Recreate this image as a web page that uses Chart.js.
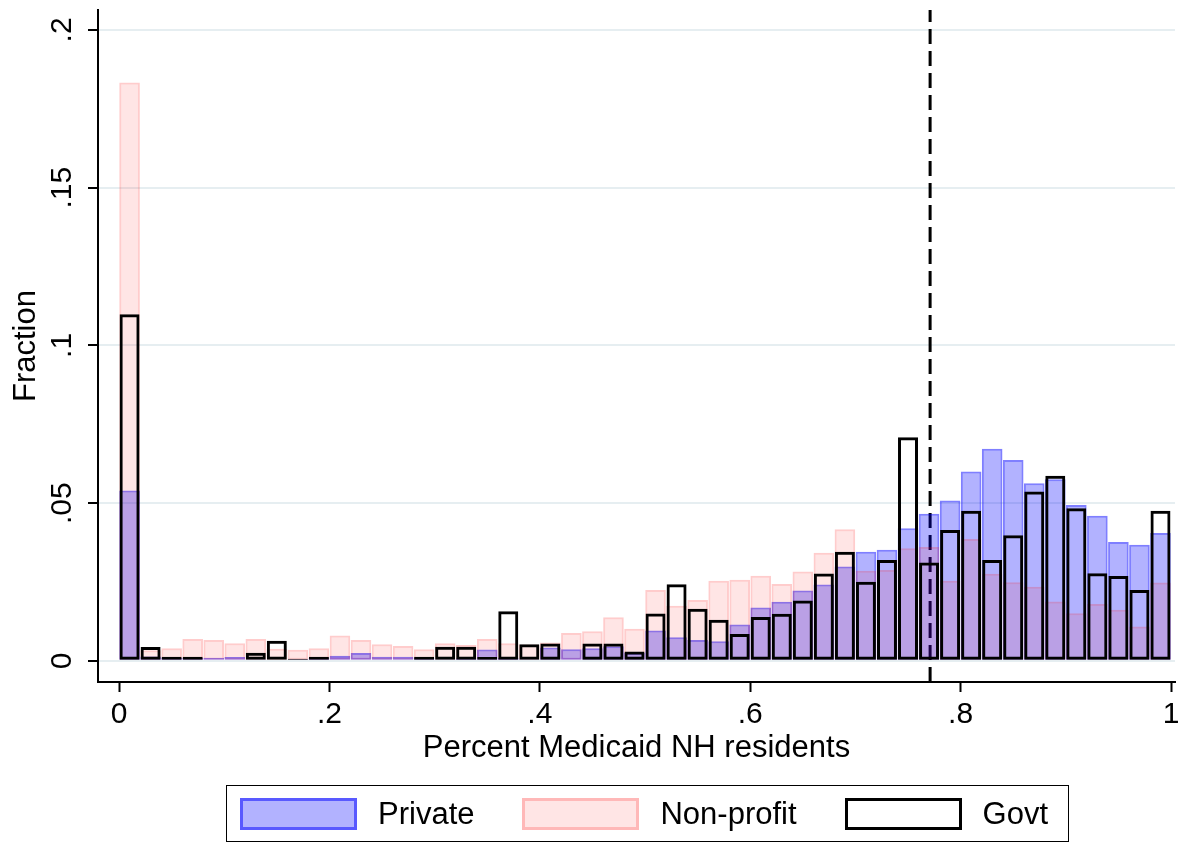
<!DOCTYPE html>
<html>
<head>
<meta charset="utf-8">
<script src="https://cdn.jsdelivr.net/npm/chart.js@4.4.1/dist/chart.umd.min.js"></script>
<style>
  html, body { margin: 0; padding: 0; background: #fff; }
  #wrap { position: relative; width: 1187px; height: 842px; }
  #legend {
    position: absolute; left: 226px; top: 785px; width: 843px; height: 57px;
    box-sizing: border-box; border: 1px solid #000; display: flex; align-items: center;
    padding-left: 13px; font-family: 'Liberation Sans', Arial, sans-serif; font-size: 31px; color: #000;
    white-space: nowrap;
  }
  .item { display: flex; align-items: center; margin-right: 48px; flex-shrink: 0; }
  .sw { width: 117px; height: 32px; box-sizing: border-box; border: 3px solid; margin-right: 21px; flex-shrink: 0; }
</style>
</head>
<body>
<div id="wrap">
  <canvas id="histChart" width="1187" height="842"></canvas>
  <div id="legend"></div>
</div>
<script>
// bin midpoints (bin width .02)
const binMids = [0.01, 0.03, 0.05, 0.07, 0.09, 0.11, 0.13, 0.15, 0.17, 0.19,
  0.21, 0.23, 0.25, 0.27, 0.29, 0.31, 0.33, 0.35, 0.37, 0.39,
  0.41, 0.43, 0.45, 0.47, 0.49, 0.51, 0.53, 0.55, 0.57, 0.59,
  0.61, 0.63, 0.65, 0.67, 0.69, 0.71, 0.73, 0.75, 0.77, 0.79,
  0.81, 0.83, 0.85, 0.87, 0.89, 0.91, 0.93, 0.95, 0.97, 0.99];

const privateFrac = [0.054, 0.0014, 0.001, 0.001, 0.001, 0.0012, 0.0005, 0.0003, 0.0005, 0.001,
  0.0016, 0.0025, 0.0013, 0.0013, 0.001, 0.0005, 0.0008, 0.0036, 0.001, 0.0005,
  0.0042, 0.0037, 0.004, 0.0046, 0.0025, 0.0096, 0.0075, 0.0066, 0.0062, 0.0115,
  0.0169, 0.0187, 0.0223, 0.0242, 0.0299, 0.0346, 0.0352, 0.042, 0.0466, 0.0508,
  0.060, 0.0672, 0.0637, 0.0563, 0.0576, 0.0494, 0.046, 0.0377, 0.0368, 0.0405];

const nonprofitFrac = [0.1833, 0.0034, 0.004, 0.0069, 0.0066, 0.0056, 0.0069, 0.0038, 0.0035, 0.004,
  0.008, 0.0066, 0.0053, 0.0047, 0.0037, 0.0056, 0.005, 0.0069, 0.0056, 0.0052,
  0.0058, 0.0088, 0.0094, 0.0138, 0.0102, 0.0225, 0.0175, 0.0193, 0.0254, 0.0257,
  0.027, 0.0244, 0.0283, 0.0343, 0.0417, 0.0286, 0.0288, 0.0357, 0.0361, 0.0254,
  0.0386, 0.0276, 0.0249, 0.0235, 0.0188, 0.0151, 0.018, 0.0162, 0.0109, 0.0248];

const govtFrac = [0.1099, 0.0044, 0.0013, 0.0013, 0, 0, 0.0026, 0.0064, 0.0007, 0.0013,
  0, 0, 0, 0, 0.0013, 0.0045, 0.0045, 0.0012, 0.0157, 0.0053,
  0.0055, 0, 0.0055, 0.0055, 0.003, 0.015, 0.0243, 0.0165, 0.013, 0.0085,
  0.0139, 0.0149, 0.0191, 0.0277, 0.0346, 0.0251, 0.032, 0.0709, 0.0312, 0.0415,
  0.0476, 0.032, 0.0398, 0.0537, 0.0587, 0.0484, 0.0278, 0.0269, 0.0225, 0.0476];

const xTicks = [0, 0.2, 0.4, 0.6, 0.8, 1];
const xTickLabels = ['0', '.2', '.4', '.6', '.8', '1'];
const yTicks = [0, 0.05, 0.1, 0.15, 0.2];
const yTickLabels = ['0', '.05', '.1', '.15', '.2'];

const cutoff = 0.771;  // dashed reference line

const xMin = -0.02, xMax = 1.0038;
const yMin = -0.0067, yMax = 0.2063;

const toPoints = vals => vals.map((v, i) => ({ x: binMids[i], y: v }));

Chart.defaults.font.family = "'Liberation Sans', Arial, sans-serif";
Chart.defaults.color = '#000';

const ctx = document.getElementById('histChart').getContext('2d');
const chart = new Chart(ctx, {
  type: 'bar',
  data: {
    datasets: [
      {
        label: 'Private',
        data: toPoints(privateFrac),
        backgroundColor: 'rgba(0,0,255,0.3)',
        borderColor: 'rgba(0,0,255,0.5)',
        borderWidth: 2,
        barPercentage: 0.98,
        order: 3
      },
      {
        label: 'Non-profit',
        data: toPoints(nonprofitFrac),
        backgroundColor: 'rgba(255,0,0,0.1)',
        borderColor: 'rgba(255,0,0,0.2)',
        borderWidth: 2,
        barPercentage: 0.98,
        order: 2
      },
      {
        label: 'Govt',
        data: toPoints(govtFrac),
        backgroundColor: 'rgba(255,255,255,0)',
        borderColor: '#000',
        borderWidth: 3,
        barPercentage: 0.95,
        order: 1
      },
      {
        type: 'line',
        label: 'cutoff',
        data: [{ x: cutoff, y: yMin }, { x: cutoff, y: yMax }],
        borderColor: '#000',
        borderWidth: 3,
        borderDash: [15, 7],
        pointRadius: 0,
        fill: false,
        order: 4
      }
    ]
  },
  options: {
    responsive: false,
    animation: false,
    layout: { padding: { top: 10, right: 12, bottom: 65, left: 0 } },
    datasets: {
      bar: { grouped: false, categoryPercentage: 1, base: 0, borderSkipped: false }
    },
    scales: {
      x: {
        type: 'linear',
        min: xMin,
        max: xMax,
        offset: false,
        afterBuildTicks: s => { s.ticks = xTicks.map(v => ({ value: v })); },
        afterFit: s => { s.height = 95; s.paddingLeft = 0; s.paddingRight = 0; },
        ticks: {
          callback: (v, i) => xTickLabels[i],
          font: { size: 30 },
          padding: 5,
          maxRotation: 0
        },
        grid: { offset: false, drawOnChartArea: false, drawTicks: true, tickLength: 10, tickColor: '#000', tickWidth: 2 },
        border: { display: true, color: '#000', width: 2 },
        title: {
          display: true,
          text: 'Percent Medicaid NH residents',
          font: { size: 31 },
          padding: { top: 0, bottom: 10 }
        }
      },
      y: {
        min: yMin,
        max: yMax,
        afterBuildTicks: s => { s.ticks = yTicks.map(v => ({ value: v })); },
        afterFit: s => { s.width = 98; s.paddingTop = 0; s.paddingBottom = 0; },
        ticks: {
          callback: (v, i) => yTickLabels[i],
          font: { size: 30 },
          minRotation: 90,
          maxRotation: 90,
          crossAlign: 'center',
          padding: 4
        },
        grid: { color: '#e6eef1', lineWidth: 2, drawTicks: true, tickLength: 10, tickColor: '#000', tickWidth: 2 },
        border: { display: true, color: '#000', width: 2 },
        title: {
          display: true,
          text: 'Fraction',
          font: { size: 31 },
          padding: { top: 8, bottom: 0 }
        }
      }
    },
    plugins: {
      legend: { display: false },
      tooltip: { enabled: false }
    }
  }
});

// legend in a box under the plot, built from the bar datasets
const legendEl = document.getElementById('legend');
chart.data.datasets.filter(ds => ds.type !== 'line').forEach(ds => {
  const item = document.createElement('div');
  item.className = 'item';
  const sw = document.createElement('span');
  sw.className = 'sw';
  sw.style.background = ds.backgroundColor;
  sw.style.borderColor = ds.borderColor;
  const txt = document.createElement('span');
  txt.textContent = ds.label;
  item.appendChild(sw);
  item.appendChild(txt);
  legendEl.appendChild(item);
});
</script>
</body>
</html>
